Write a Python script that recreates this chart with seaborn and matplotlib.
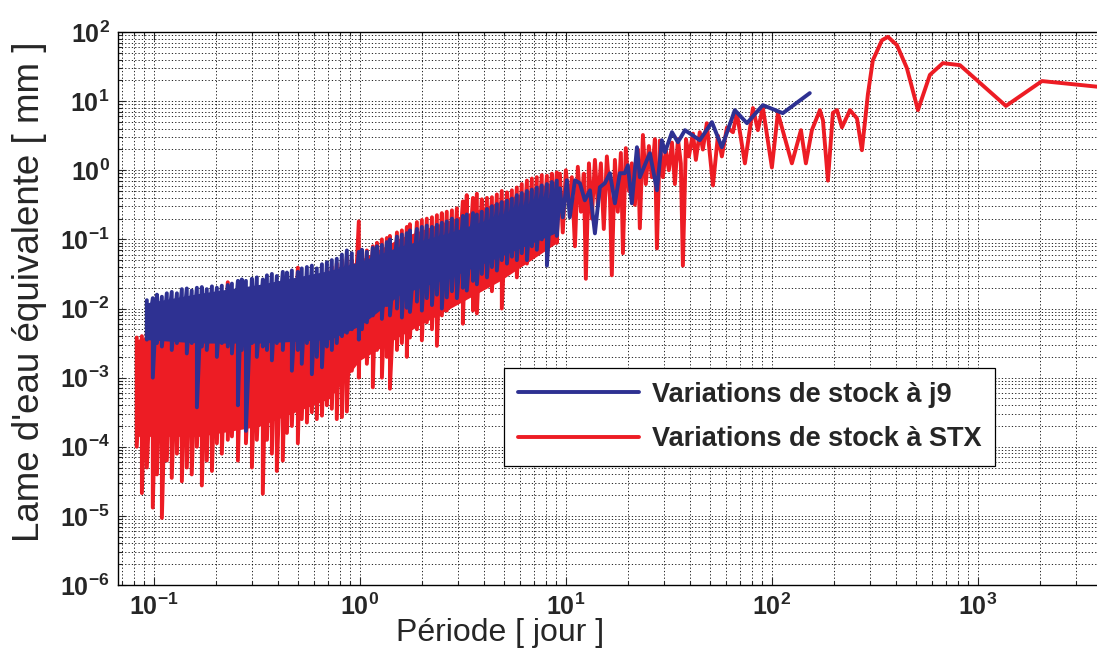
import numpy as np
import pandas as pd
import matplotlib
matplotlib.use("Agg")
import matplotlib.pyplot as plt
import matplotlib.ticker as mticker
from matplotlib.lines import Line2D
import seaborn as sns

# values, stored as log10 (period in days, lame d'eau in mm)
# short periods: dense part of both spectra, one upper and one lower value per period
dense_period_exp = [
    -1.083, -1.058, -1.034, -1.005, -0.985, -0.961, -0.937, -0.913, -0.888, -0.864,
    -0.840, -0.816, -0.791, -0.767, -0.743, -0.718, -0.694, -0.670, -0.641, -0.621,
    -0.592, -0.573, -0.553, -0.524, -0.500, -0.471, -0.451, -0.427, -0.403, -0.374,
    -0.354, -0.330, -0.301, -0.282, -0.257, -0.233, -0.209, -0.184, -0.160, -0.136,
    -0.112, -0.087, -0.063, -0.039, -0.005, 0.010, 0.034, 0.063, 0.083, 0.107,
    0.131, 0.146, 0.180, 0.204, 0.228, 0.243, 0.277, 0.301, 0.325, 0.350,
    0.374, 0.398, 0.422, 0.447, 0.471, 0.500, 0.519, 0.549, 0.568, 0.592,
    0.617, 0.641, 0.665, 0.689, 0.714, 0.738, 0.762, 0.786, 0.811, 0.835,
    0.859, 0.883, 0.908, 0.932, 0.956]

j9_hi_exp = [
    np.nan, np.nan, -1.88, -1.85, -1.80, -1.83, -1.78, -1.76, -1.78, -1.72,
    -1.71, -1.74, -1.70, -1.69, -1.72, -1.68, -1.70, -1.67, -1.66, -1.64,
    -1.60, -1.58, -1.60, -1.57, -1.55, -1.58, -1.52, -1.50, -1.53, -1.47,
    -1.48, -1.45, -1.47, -1.42, -1.40, -1.38, -1.42, -1.36, -1.33, -1.30,
    -1.28, -1.22, -1.16, -1.20, -1.18, -1.15, -1.18, -1.12, -1.10, -1.08,
    -1.04, -1.00, -0.96, -0.93, -0.91, -0.87, -0.85, -0.82, -0.80, -0.82,
    -0.79, -0.76, -0.74, -0.70, -0.72, -0.66, -0.64, -0.62, -0.64, -0.60,
    -0.56, -0.52, -0.49, -0.46, -0.44, -0.41, -0.36, -0.33, -0.30, -0.28,
    -0.25, -0.22, -0.20, -0.17, -0.15]

j9_lo_exp = [
    np.nan, np.nan, -2.45, -3.00, -2.50, -2.55, -2.40, -2.60, -2.50, -2.45,
    -2.65, -2.50, -3.43, -2.55, -2.60, -2.45, -2.70, -2.50, -2.55, -2.65,
    -3.40, -2.60, -3.77, -2.50, -2.70, -2.55, -2.60, -2.75, -2.50, -2.60,
    -2.45, -2.90, -2.60, -2.80, -2.50, -2.95, -2.70, -2.85, -2.55, -2.60,
    -2.50, -2.40, -2.35, -2.30, -2.45, -2.30, -2.20, -2.10, -2.00, -2.15,
    -1.95, -2.10, -2.00, -2.13, -1.99, -2.05, -1.90, -2.03, -1.85, -1.95,
    -1.80, -2.00, -1.84, -1.75, -1.85, -1.70, -1.74, -1.60, -1.65, -1.50,
    -1.55, -1.40, -1.45, -1.30, -1.35, -1.25, -1.30, -1.20, -1.30, -1.10,
    -1.15, -1.00, -1.38, -0.90, -0.95]

stx_hi_exp = [
    -2.42, -2.40, -2.35, -2.30, -2.30, -2.25, -2.30, -2.20, -2.25, -2.20,
    -2.15, -2.20, -2.10, -2.15, -2.10, -2.05, -2.10, -2.00, -1.62, -2.00,
    -1.95, -2.00, -1.90, -1.95, -1.85, -1.90, -1.80, -1.85, -1.75, -1.80,
    -1.70, -1.75, -1.41, -1.65, -1.60, -1.65, -1.55, -1.50, -1.45, -1.40,
    -1.35, -1.30, -1.25, -1.30, -0.74, -1.20, -1.16, -1.10, -1.05, -1.00,
    -0.98, -0.95, -0.90, -0.87, -0.82, -0.78, -0.75, -0.72, -0.70, -0.68,
    -0.65, -0.62, -0.60, -0.58, -0.55, -0.45, -0.36, -0.40, -0.34, -0.42,
    -0.40, -0.39, -0.35, -0.30, -0.32, -0.29, -0.25, -0.20, -0.15, -0.12,
    -0.10, -0.07, -0.08, -0.05, -0.03]

stx_lo_exp = [
    -4.00, -4.67, -4.30, -4.88, -4.40, -5.03, -4.20, -4.45, -4.10, -4.50,
    -4.30, -4.40, -4.00, -4.56, -4.20, -4.35, -3.95, -4.10, -3.90, -3.85,
    -4.20, -3.70, -3.95, -4.30, -3.90, -4.68, -3.90, -4.10, -4.35, -4.20,
    -3.80, -3.70, -3.95, -3.60, -3.65, -3.50, -3.60, -3.55, -3.40, -3.45,
    -3.60, -3.57, -3.49, -2.90, -3.00, -2.70, -2.80, -3.14, -2.60, -3.00,
    -2.70, -3.16, -2.60, -2.50, -2.70, -2.42, -2.30, -2.46, -2.20, -2.30,
    -2.54, -2.10, -2.03, -1.90, -1.77, -2.22, -1.80, -2.03, -2.07, -1.70,
    -1.60, -1.75, -1.50, -2.00, -1.50, -1.40, -1.55, -1.30, -1.35, -1.25,
    -1.20, -1.10, -1.30, -1.00, -1.05]

# where the short-period curves are so dense they read as a solid band
j9_band_period_exp = [-1.039, -0.777, -0.485, -0.146, 0.000, 0.194, 0.437, 0.680, 0.956]
j9_band_top_exp = [-1.92, -1.78, -1.65, -1.45, -1.32, -1.10, -0.90, -0.65, -0.35]
j9_band_bottom_exp = [-2.45, -2.50, -2.50, -2.45, -2.25, -1.80, -1.55, -1.25, -0.90]
stx_band_period_exp = [-1.083, -0.777, -0.485, -0.146, 0.000, 0.194, 0.437, 0.680, 0.956]
stx_band_top_exp = [-2.45, -2.20, -2.00, -1.50, -1.30, -0.98, -0.72, -0.45, -0.15]
stx_band_bottom_exp = [-3.85, -3.85, -3.70, -3.30, -2.75, -2.40, -2.00, -1.60, -1.05]

# longer periods: individual points
j9_tail_period_exp = [
    0.971, 0.985, 1.005, 1.019, 1.044, 1.068, 1.092, 1.117, 1.141, 1.165,
    1.189, 1.214, 1.238, 1.262, 1.286, 1.301, 1.320, 1.345, 1.359, 1.393,
    1.408, 1.442, 1.466, 1.481, 1.515, 1.544, 1.578, 1.650, 1.709, 1.757,
    1.820, 1.879, 1.956, 2.053, 2.184]
j9_tail_exp = [
    -0.261, -0.681, -0.145, -0.681, -0.145, -0.188, -0.435, -0.290, -0.913, -0.246,
    -0.188, -0.043, -0.478, -0.043, -0.043, 0.072, -0.478, 0.333, -0.101, 0.145,
    0.246, -0.290, 0.435, 0.261, 0.551, 0.406, 0.580, 0.435, 0.696, 0.333,
    0.870, 0.681, 0.942, 0.826, 1.116]

stx_tail_period_exp = [
    0.971, 0.985, 1.000, 1.015, 1.029, 1.044, 1.058, 1.073, 1.087, 1.097,
    1.112, 1.126, 1.141, 1.155, 1.170, 1.184, 1.199, 1.214, 1.223, 1.238,
    1.252, 1.267, 1.277, 1.291, 1.306, 1.320, 1.335, 1.350, 1.359, 1.374,
    1.388, 1.403, 1.417, 1.432, 1.442, 1.456, 1.471, 1.485, 1.500, 1.515,
    1.529, 1.544, 1.558, 1.568, 1.583, 1.597, 1.617, 1.631, 1.650, 1.665,
    1.684, 1.714, 1.738, 1.757, 1.782, 1.811, 1.830, 1.869, 1.908, 1.932,
    1.956, 2.000, 2.029, 2.097, 2.141, 2.165, 2.194, 2.233, 2.248, 2.272,
    2.296, 2.316, 2.340, 2.379, 2.413, 2.437, 2.466, 2.490, 2.534, 2.563,
    2.607, 2.655, 2.709, 2.767, 2.830, 2.913, 3.136, 3.311, 3.641]
stx_tail_exp = [
    -0.05, -0.90, 0.00, -0.50, -0.10, -1.10, 0.05, -0.60, -0.05, -1.57,
    0.10, -0.70, 0.15, -0.50, 0.10, -0.85, 0.20, -0.40, -1.52, 0.15,
    -0.60, 0.25, -1.20, 0.32, -0.30, 0.10, -0.50, 0.30, -0.84, 0.51,
    -0.20, 0.35, -0.10, 0.45, -1.13, 0.43, -0.10, 0.30, 0.00, 0.40,
    -0.20, 0.45, 0.10, -1.38, 0.45, 0.20, 0.53, 0.15, 0.55, 0.30,
    0.68, -0.22, 0.50, 0.20, 0.62, 0.55, 0.83, 0.10, 0.90, 0.58,
    0.91, 0.04, 0.83, 0.10, 0.58, 0.10, 0.58, 0.87, 0.72, -0.15,
    0.83, 0.87, 0.62, 0.87, 0.75, 0.29, 1.10, 1.59, 1.88, 1.93,
    1.81, 1.48, 0.87, 1.38, 1.55, 1.52, 0.93, 1.29, 1.19]

labels = ["Variations de stock à j9", "Variations de stock à STX"]
BLUE = "#2E3192"
RED = "#ED1C24"
LW = 2.8


def spectrum(hi, lo, tail_x, tail_y):
    xs, ys = [], []
    for p, h, l in zip(dense_period_exp, hi, lo):
        xs += [p, p]
        ys += [h, l]
    xs += tail_x
    ys += tail_y
    df = pd.DataFrame({"periode": xs, "lame": ys}).dropna()
    return 10 ** df


def band(ax, px, top, bottom, color):
    x = 10 ** np.array(px)
    ax.fill_between(x, 10 ** np.array(bottom), 10 ** np.array(top),
                    color=color, lw=0, zorder=2)


j9 = spectrum(j9_hi_exp, j9_lo_exp, j9_tail_period_exp, j9_tail_exp)
stx = spectrum(stx_hi_exp, stx_lo_exp, stx_tail_period_exp, stx_tail_exp)

sns.set_style("ticks")
plt.rcParams["font.family"] = ["Liberation Sans", "DejaVu Sans"]
plt.rcParams["mathtext.fontset"] = "custom"
plt.rcParams["mathtext.rm"] = "Liberation Sans"
plt.rcParams["mathtext.bf"] = "Liberation Sans:bold"
plt.rcParams["mathtext.default"] = "bf"

fig = plt.figure(figsize=(10.97, 6.59), dpi=100)
ax = fig.add_axes([118 / 1097, 74 / 659, 990 / 1097, 553 / 659])
ax.set_xscale("log")
ax.set_yscale("log")

band(ax, stx_band_period_exp, stx_band_top_exp, stx_band_bottom_exp, RED)
sns.lineplot(data=stx, x="periode", y="lame", sort=False, estimator=None,
             color=RED, lw=LW, ax=ax, zorder=2)
band(ax, j9_band_period_exp, j9_band_top_exp, j9_band_bottom_exp, BLUE)
sns.lineplot(data=j9, x="periode", y="lame", sort=False, estimator=None,
             color=BLUE, lw=LW, ax=ax, zorder=2)

ax.set_xlim(0.067, 4280)
ax.set_ylim(1e-6, 1e2)
ax.set_xticks(10.0 ** np.arange(-1, 4))
ax.set_yticks(10.0 ** np.arange(-6, 3))

for axis in (ax.xaxis, ax.yaxis):
    axis.set_minor_locator(mticker.LogLocator(base=10, subs=np.arange(2, 10), numticks=100))
    axis.set_minor_formatter(mticker.NullFormatter())
    axis.set_major_formatter(mticker.FuncFormatter(lambda v, pos: r"$10^{%d}$" % round(np.log10(v))))

ax.grid(True, which="both", color="black", linestyle=(0, (1.5, 2.5)), linewidth=0.6)
ax.set_axisbelow(True)
ax.tick_params(which="both", direction="in", top=True, right=True, width=0.8)
ax.tick_params(which="major", length=6, labelsize=18, pad=6)
ax.tick_params(which="minor", length=3)
for s in ax.spines.values():
    s.set_linewidth(1.0)
    s.set_color("black")

ax.set_xlabel("Période [ jour ]", fontsize=23)
ax.set_ylabel("Lame d'eau équivalente [ mm ]", fontsize=26.5)
ax.xaxis.set_label_coords(0.386, -0.06)
ax.yaxis.set_label_coords(-0.072, 0.53)

handles = [Line2D([], [], color=BLUE, lw=LW), Line2D([], [], color=RED, lw=LW)]
leg = ax.legend(handles, labels, loc="upper left",
                bbox_to_anchor=((504 - 118) / 990, (585 - 368) / 553),
                borderaxespad=0, frameon=True, fancybox=False, framealpha=1,
                edgecolor="black", prop={"weight": "bold", "size": 19.5},
                handlelength=4.5, handletextpad=0.45, borderpad=0.5, labelspacing=0.7)
leg.get_frame().set_linewidth(0.9)

fig.savefig("out.png", dpi=100)
